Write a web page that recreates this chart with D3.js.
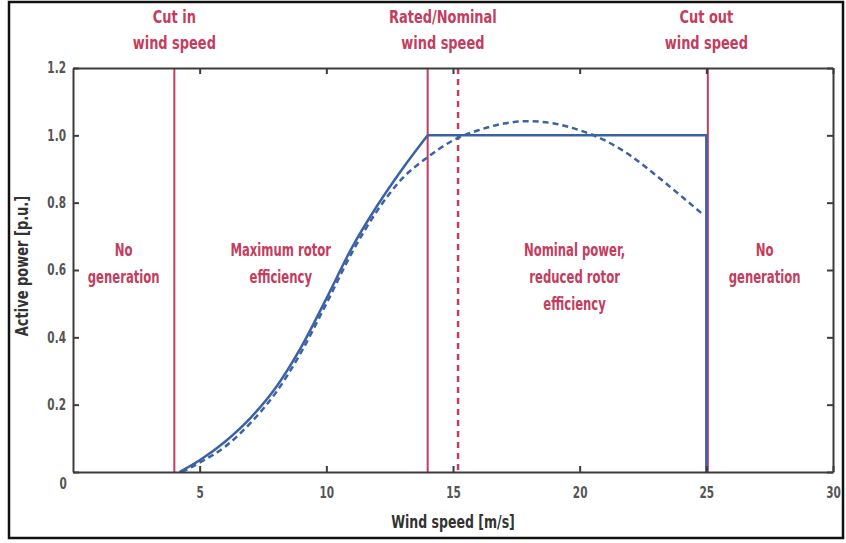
<!DOCTYPE html>
<html>
<head>
<meta charset="utf-8">
<script src="https://cdn.jsdelivr.net/npm/d3@7"></script>
<style>
  body { margin: 0; background: #fff; }
  svg text { font-family: "DejaVu Sans Condensed", "DejaVu Sans", sans-serif; font-weight: bold; }
</style>
</head>
<body>
<svg></svg>
<script>
// rising part of the rated curve (solid)
var solidWs = [4.2, 5, 6, 7, 8, 9, 10, 11, 12, 13, 14];
var solidP  = [0, 0.035, 0.09, 0.16, 0.25, 0.37, 0.515, 0.665, 0.79, 0.9, 1.0];
// plateau then cut out
var plateauWs = [14, 25, 25];
var plateauP  = [1.0, 1.0, 0];
// max rotor efficiency curve (dashed)
var dashWs = [4.3, 5, 6, 7, 8, 9, 10, 11, 12, 13, 14, 15, 16, 17, 18, 19, 20, 21, 22, 23, 24, 24.9];
var dashP  = [0, 0.028, 0.075, 0.145, 0.235, 0.355, 0.5, 0.65, 0.775, 0.872, 0.935, 0.985, 1.015, 1.035, 1.042, 1.035, 1.015, 0.985, 0.94, 0.882, 0.82, 0.763];

var xTicks = [5, 10, 15, 20, 25, 30];
var yTicks = [0, 0.2, 0.4, 0.6, 0.8, 1.0, 1.2];
var yTickLabels = ["0", "0.2", "0.4", "0.6", "0.8", "1.0", "1.2"];

var markerWs = [4, 14, 25];           // solid red lines
var markerLabelWs = [4, 14.6, 25];
var markerNames = [["Cut in", "wind speed"], ["Rated/Nominal", "wind speed"], ["Cut out", "wind speed"]];
var dashedMarkerWs = 15.2;

var regionWs = [2, 8.2, 19.8, 27.3];
var regionText = [["No", "generation"], ["Maximum rotor", "efficiency"], ["Nominal power,", "reduced rotor", "efficiency"], ["No", "generation"]];

start();

function start(){
  var width = 846, height = 543;
  var m = {left: 73, right: 833, top: 68, bottom: 472};
  var red = "#c43d5e", blue = "#3b62a6", axisCol = "#3c3c3c", labCol = "#555";

  var svg = d3.select("svg").attr("width", width).attr("height", height);

  var x = d3.scaleLinear().domain([0, 30]).range([m.left, m.right]);
  var y = d3.scaleLinear().domain([0, 1.2]).range([m.bottom, m.top]);

  // narrow text: put it at (px,py) and squeeze it sideways
  function label(px, py, lines, size, sx, col, gap, rot){
    var g = svg.append("g")
      .attr("transform", "translate(" + px + "," + py + ")" + (rot ? " rotate(" + rot + ")" : "") + " scale(" + sx + ",1)");
    var t = g.append("text").attr("text-anchor", "middle").attr("fill", col).style("font-size", size + "px");
    lines.forEach(function(s, j){
      t.append("tspan").attr("x", 0).attr("y", j * gap).text(s);
    });
  }

  // outer frame
  svg.append("rect").attr("x", 9).attr("y", 2).attr("width", 834).attr("height", 536)
     .attr("fill", "none").attr("stroke", "#111").attr("stroke-width", 2.5);

  // red marker lines
  svg.selectAll("line.mark").data(markerWs).enter().append("line")
     .attr("class", "mark")
     .attr("x1", function(d){ return x(d) + (d == 25 ? 1.5 : 0); })
     .attr("x2", function(d){ return x(d) + (d == 25 ? 1.5 : 0); })
     .attr("y1", y(1.2)).attr("y2", y(0))
     .attr("stroke", red).attr("stroke-width", 2);

  svg.append("line")
     .attr("x1", x(dashedMarkerWs)).attr("x2", x(dashedMarkerWs))
     .attr("y1", y(1.2)).attr("y2", y(0))
     .attr("stroke", red).attr("stroke-width", 2.5)
     .attr("stroke-dasharray", "6,5");

  // curves
  var line = d3.line().x(function(d){ return x(d[0]); }).y(function(d){ return y(d[1]); });

  svg.append("path")
     .datum(d3.zip(dashWs, dashP))
     .attr("d", line.curve(d3.curveMonotoneX))
     .attr("fill", "none").attr("stroke", blue).attr("stroke-width", 2.5)
     .attr("stroke-dasharray", "6,4");

  svg.append("path")
     .datum(d3.zip(solidWs, solidP))
     .attr("d", line.curve(d3.curveMonotoneX))
     .attr("fill", "none").attr("stroke", blue).attr("stroke-width", 2.5);

  svg.append("path")
     .datum(d3.zip(plateauWs, plateauP))
     .attr("d", line.curve(d3.curveLinear))
     .attr("fill", "none").attr("stroke", blue).attr("stroke-width", 2.5);

  // axes box
  var gx = svg.append("g").attr("transform", "translate(0," + m.bottom + ")")
     .call(d3.axisBottom(x).tickValues(xTicks).tickSizeInner(-6).tickSizeOuter(0).tickPadding(15));
  var gy = svg.append("g").attr("transform", "translate(" + m.left + ",0)")
     .call(d3.axisLeft(y).tickValues(yTicks).tickSizeInner(-6).tickSizeOuter(0).tickPadding(9)
       .tickFormat(function(d, i){ return yTickLabels[i]; }));
  var gt = svg.append("g").attr("transform", "translate(0," + m.top + ")")
     .call(d3.axisTop(x).tickValues(xTicks).tickSizeInner(-6).tickSizeOuter(0).tickFormat(""));
  var gr = svg.append("g").attr("transform", "translate(" + m.right + ",0)")
     .call(d3.axisRight(y).tickValues(yTicks).tickSizeInner(-6).tickSizeOuter(0).tickFormat(""));

  [gx, gy, gt, gr].forEach(function(g){
    g.select(".domain").attr("stroke", axisCol).attr("stroke-width", 2);
    g.selectAll(".tick line").attr("stroke", axisCol).attr("stroke-width", 2);
    g.selectAll(".tick text").attr("fill", labCol).style("font-size", "15px")
      .attr("transform", "scale(0.78,1)");
  });
  // "0" sits under the corner
  gy.selectAll(".tick text").filter(function(d){ return d === 0; })
    .attr("x", -8).attr("dy", "1.1em");

  // axis titles
  label(453, 528, ["Wind speed [m/s]"], 17, 0.82, "#333", 0);
  label(28, 266, ["Active power [p.u.]"], 17, 0.85, "#333", 0, -90);

  // top labels
  markerNames.forEach(function(lines, i){
    label(x(markerLabelWs[i]), 23, lines, 18, 0.8, red, 26);
  });

  // region labels
  regionText.forEach(function(lines, i){
    label(x(regionWs[i]), 256, lines, 18, 0.72, red, 27);
  });
}
</script>
</body>
</html>
